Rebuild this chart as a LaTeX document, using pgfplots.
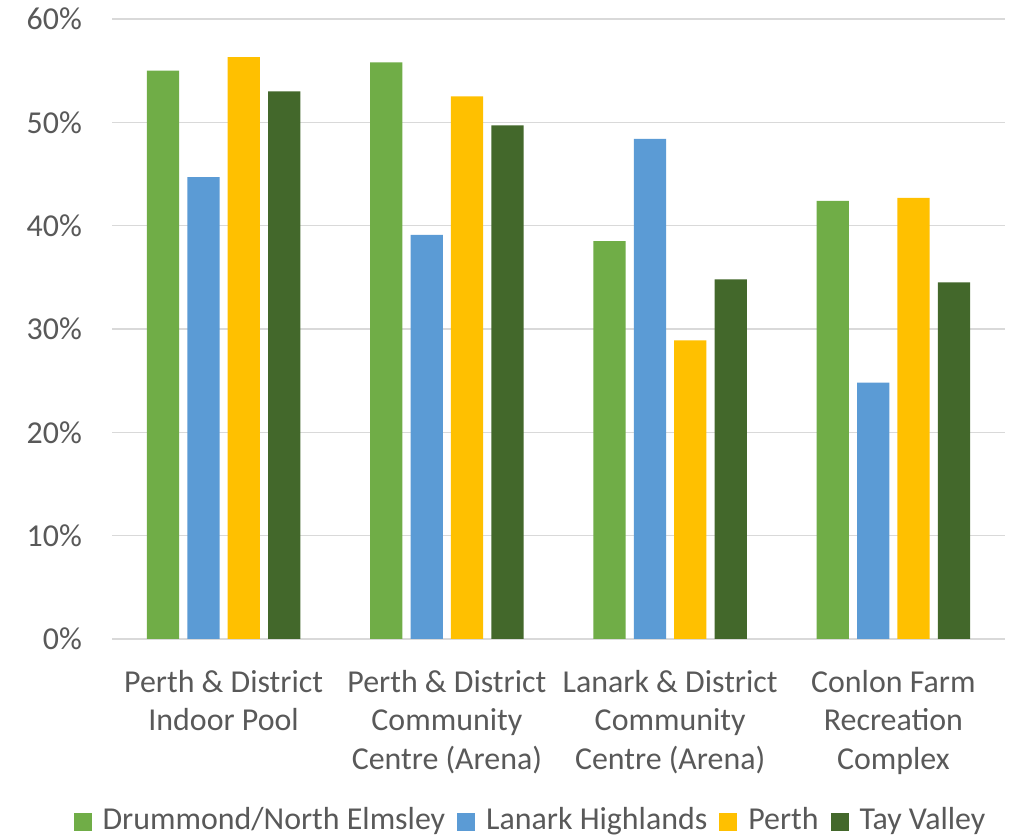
\documentclass[border=0pt]{standalone}
\usepackage{fontspec}
\setmainfont{Carlito}
\usepackage{pgfplots}
\pgfplotsset{compat=1.18}
\definecolor{cDrum}{HTML}{70AD47}
\definecolor{cLan}{HTML}{5B9BD5}
\definecolor{cPerth}{HTML}{FFC000}
\definecolor{cTay}{HTML}{43682B}
\definecolor{txt}{HTML}{595959}
\definecolor{gridc}{HTML}{D9D9D9}
\begin{document}
\begin{tikzpicture}[font=\fontsize{31.9bp}{38.5bp}\selectfont]
\path[use as bounding box, fill=white] (0,0) rectangle (1018bp,838bp);
\begin{axis}[
  at={(112bp,199bp)}, anchor=south west,
  scale only axis, width=893bp, height=620bp,
  xmin=-0.5, xmax=3.5, ymin=0, ymax=60,
  axis line style={draw=none},
  major tick length=0pt,
  ytick={0,10,20,30,40,50,60},
  yticklabels={0\%,10\%,20\%,30\%,40\%,50\%,60\%},
  xtick={0,1,2,3},
  xticklabels={{Perth \& District\\Indoor Pool},{Perth \& District\\Community\\Centre (Arena)},{Lanark \& District\\Community\\Centre (Arena)},{Conlon Farm\\Recreation\\Complex}},
  xticklabel style={align=center, anchor=north, inner sep=0pt, yshift=-31bp, text=txt},
  yticklabel style={anchor=east, inner sep=0pt, xshift=-30bp, text=txt},
  ymajorgrids, grid style={gridc, line width=1.5bp},
  ybar, bar width=32.3bp,
  legend columns=4,
  legend style={draw=none, at={(0.4686,-0.290)}, anchor=center, text=txt,
    /tikz/every even column/.append style={column sep=10bp}},
  legend image code/.code={\path[draw=none, fill=none] (0bp,0bp) rectangle (27bp,1bp);\fill (0bp,-12bp) rectangle (18bp,6bp);},
]
\addplot[fill=cDrum, draw=none, bar shift=-60.7bp] coordinates {(0,55.0) (1,55.8) (2,38.5) (3,42.4)};
\addplot[fill=cLan, draw=none, bar shift=-20.2bp] coordinates {(0,44.7) (1,39.1) (2,48.4) (3,24.8)};
\addplot[fill=cPerth, draw=none, bar shift=20.2bp] coordinates {(0,56.3) (1,52.5) (2,28.9) (3,42.7)};
\addplot[fill=cTay, draw=none, bar shift=60.7bp] coordinates {(0,53.0) (1,49.7) (2,34.8) (3,34.5)};
\legend{Drummond/North Elmsley, Lanark Highlands, Perth, Tay Valley}
\end{axis}
\end{tikzpicture}
\end{document}
